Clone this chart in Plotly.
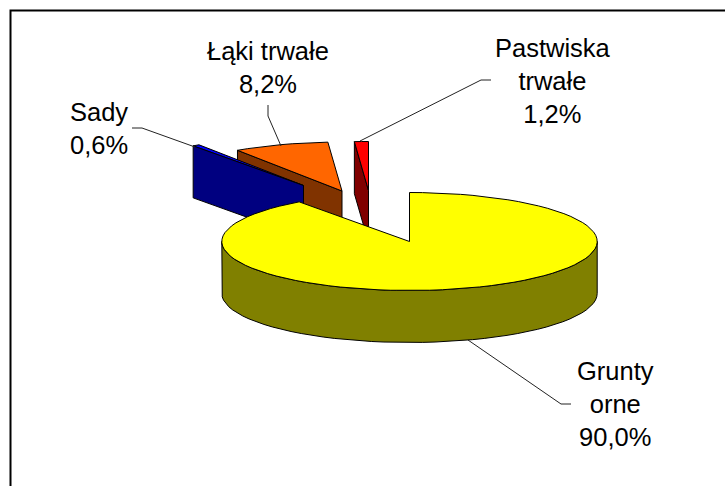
import math
import plotly.graph_objects as go

# ---- data ----
categories = ["Grunty orne", "Sady", "Łąki trwałe", "Pastwiska trwałe"]
values = [90.0, 0.6, 8.2, 1.2]
label_lines = ["Grunty<br>orne", "Sady", "Łąki trwałe", "Pastwiska<br>trwałe"]

# ---- styles ----
top_colors = ["#FFFF00", "#0000FF", "#FF6600", "#FF0000"]
side_colors = ["#808000", "#000080", "#803300", "#800000"]
CX, CY, A, B, DEPTH = 409.5, 241.5, 187.7, 49.0, 52.0
offsets = [(0, 0), (-106, -56), (-67.5, -50.5), (-41, -51)]
FONT = dict(family="Liberation Sans, Arial, sans-serif", size=25.5, color="black")
label_pos = [(615, 404), (99, 128), (268, 67), (552.5, 81)]
leaders = [
    [(571, 404), (561, 404), (468, 340)],
    [(132, 128), (142, 128), (195, 147)],
    [(268, 105), (268, 116), (281, 146)],
    [(491, 80), (481, 80), (360, 141)],
]

total = sum(values)
starts = []
acc = 0.0
for v in values:
    starts.append(acc)
    acc += v


def pt(angle_deg, dx, dy, drop=0.0, radius=1.0):
    t = math.radians(angle_deg)
    return (CX + dx + radius * A * math.sin(t), CY + dy - radius * B * math.cos(t) + drop)


def arc(a0, a1, dx, dy, drop=0.0):
    n = max(2, int(abs(a1 - a0) / 4) + 1)
    return [pt(a0 + (a1 - a0) * i / n, dx, dy, drop) for i in range(n + 1)]


fig = go.Figure()


def poly(points, fill, line="black", width=1.0):
    fig.add_trace(go.Scatter(
        x=[p[0] for p in points] + [points[0][0]],
        y=[p[1] for p in points] + [points[0][1]],
        mode="lines", fill="toself", fillcolor=fill,
        line=dict(color=line, width=width), hoverinfo="skip", showlegend=False,
    ))


def line(points, color="#222222", width=1.0):
    fig.add_trace(go.Scatter(
        x=[p[0] for p in points], y=[p[1] for p in points], mode="lines",
        line=dict(color=color, width=width), hoverinfo="skip", showlegend=False,
    ))


angles = [(s / total * 360, (s + v) / total * 360) for s, v in zip(starts, values)]


def cut_wall(angle, dx, dy, color):
    apex = (CX + dx, CY + dy)
    o = pt(angle, dx, dy)
    poly([apex, o, (o[0], o[1] + DEPTH), (apex[0], apex[1] + DEPTH)], color)


def top(i):
    dx, dy = offsets[i]
    a0, a1 = angles[i]
    poly([(CX + dx, CY + dy)] + arc(a0, a1, dx, dy), top_colors[i])


# Pastwiska trwałe
dx, dy = offsets[3]
cut_wall(angles[3][0], dx, dy, side_colors[3])
top(3)

# Łąki trwałe
dx, dy = offsets[2]
cut_wall(angles[2][0], dx, dy, side_colors[2])
top(2)

# Sady
dx, dy = offsets[1]
top(1)
cut_wall(angles[1][0], dx, dy, side_colors[1])

# Grunty orne: outer wall (front half of the rim) and top
a0, a1 = angles[0]
front = arc(90, 270, 0, 0)
poly(front + arc(270, 90, 0, 0, DEPTH), side_colors[0])
top(0)

for pts in leaders:
    line(pts)

# frame, open at the right and bottom edges of the picture
line([(10.5, 486), (10.5, 10.5), (725, 10.5)], color="black", width=2)

for name, val, (x, y) in zip(label_lines, values, label_pos):
    txt = f"{name}<br>{val:.1f}%".replace(".", ",")
    fig.add_annotation(x=x, y=y, text=txt, showarrow=False, font=FONT,
                       xanchor="center", yanchor="middle", align="center")

fig.update_layout(
    width=725, height=486, margin=dict(l=0, r=0, t=0, b=0),
    paper_bgcolor="white", plot_bgcolor="white", showlegend=False,
    xaxis=dict(range=[0, 725], visible=False, fixedrange=True),
    yaxis=dict(range=[486, 0], visible=False, fixedrange=True),
)
fig.write_html("out.html", post_script="document.body.style.margin='0';",
               config={"displayModeBar": False})
